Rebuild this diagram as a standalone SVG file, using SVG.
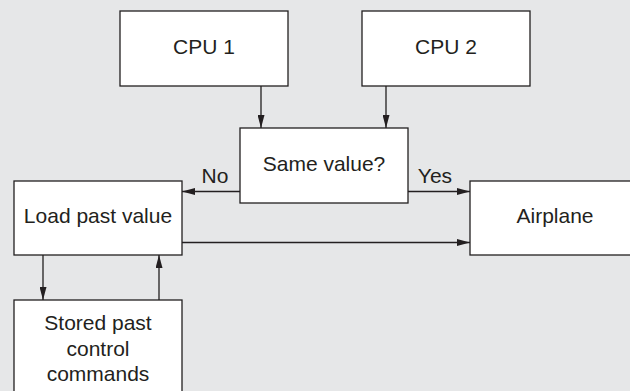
<svg xmlns="http://www.w3.org/2000/svg" width="630" height="391" viewBox="0 0 630 391">
<defs>
<marker id="ah" viewBox="0 0 13 7" refX="13" refY="3.5" markerWidth="13" markerHeight="7" markerUnits="userSpaceOnUse" orient="auto">
<path d="M0,0 L13,3.5 L0,7 z" fill="#231f20"/>
</marker>
</defs>
<style>
.box{fill:#fff;stroke:#231f20;stroke-width:1.3}
.t{font-family:"Liberation Sans",Arial,sans-serif;font-size:21px;fill:#231f20;text-anchor:middle}
.c{stroke:#231f20;stroke-width:1.3;fill:none;marker-end:url(#ah)}
</style>
<rect width="630" height="391" fill="#e6e7e8"/>
<g id="cpu1"><rect class="box" x="120" y="11" width="168" height="75"/><text class="t" x="204" y="54">CPU 1</text></g>
<g id="cpu2"><rect class="box" x="362" y="11" width="168" height="75"/><text class="t" x="446" y="54">CPU 2</text></g>
<g id="same"><rect class="box" x="240" y="128" width="168" height="75"/><text class="t" x="324" y="171">Same value?</text></g>
<g id="load"><rect class="box" x="14" y="181" width="168" height="74"/><text class="t" x="98" y="223">Load past value</text></g>
<g id="airplane"><rect class="box" x="470" y="181" width="175" height="74"/><text class="t" x="555" y="223">Airplane</text></g>
<g id="stored"><rect class="box" x="14" y="300" width="168" height="100"/><text class="t" x="98" y="330">Stored past</text><text class="t" x="98" y="356">control</text><text class="t" x="98" y="381">commands</text></g>
<g id="connectors">
<line class="c" x1="261" y1="86" x2="261" y2="128"/>
<line class="c" x1="386" y1="86" x2="386" y2="128"/>
<line class="c" x1="240" y1="191.5" x2="182" y2="191.5"/>
<line class="c" x1="408" y1="191.5" x2="470" y2="191.5"/>
<line class="c" x1="182" y1="242.5" x2="470" y2="242.5"/>
<line class="c" x1="43" y1="255" x2="43" y2="300"/>
<line class="c" x1="159" y1="300" x2="159" y2="255"/>
<text class="t" x="215" y="183">No</text>
<text class="t" x="435" y="183">Yes</text>
</g>
</svg>
